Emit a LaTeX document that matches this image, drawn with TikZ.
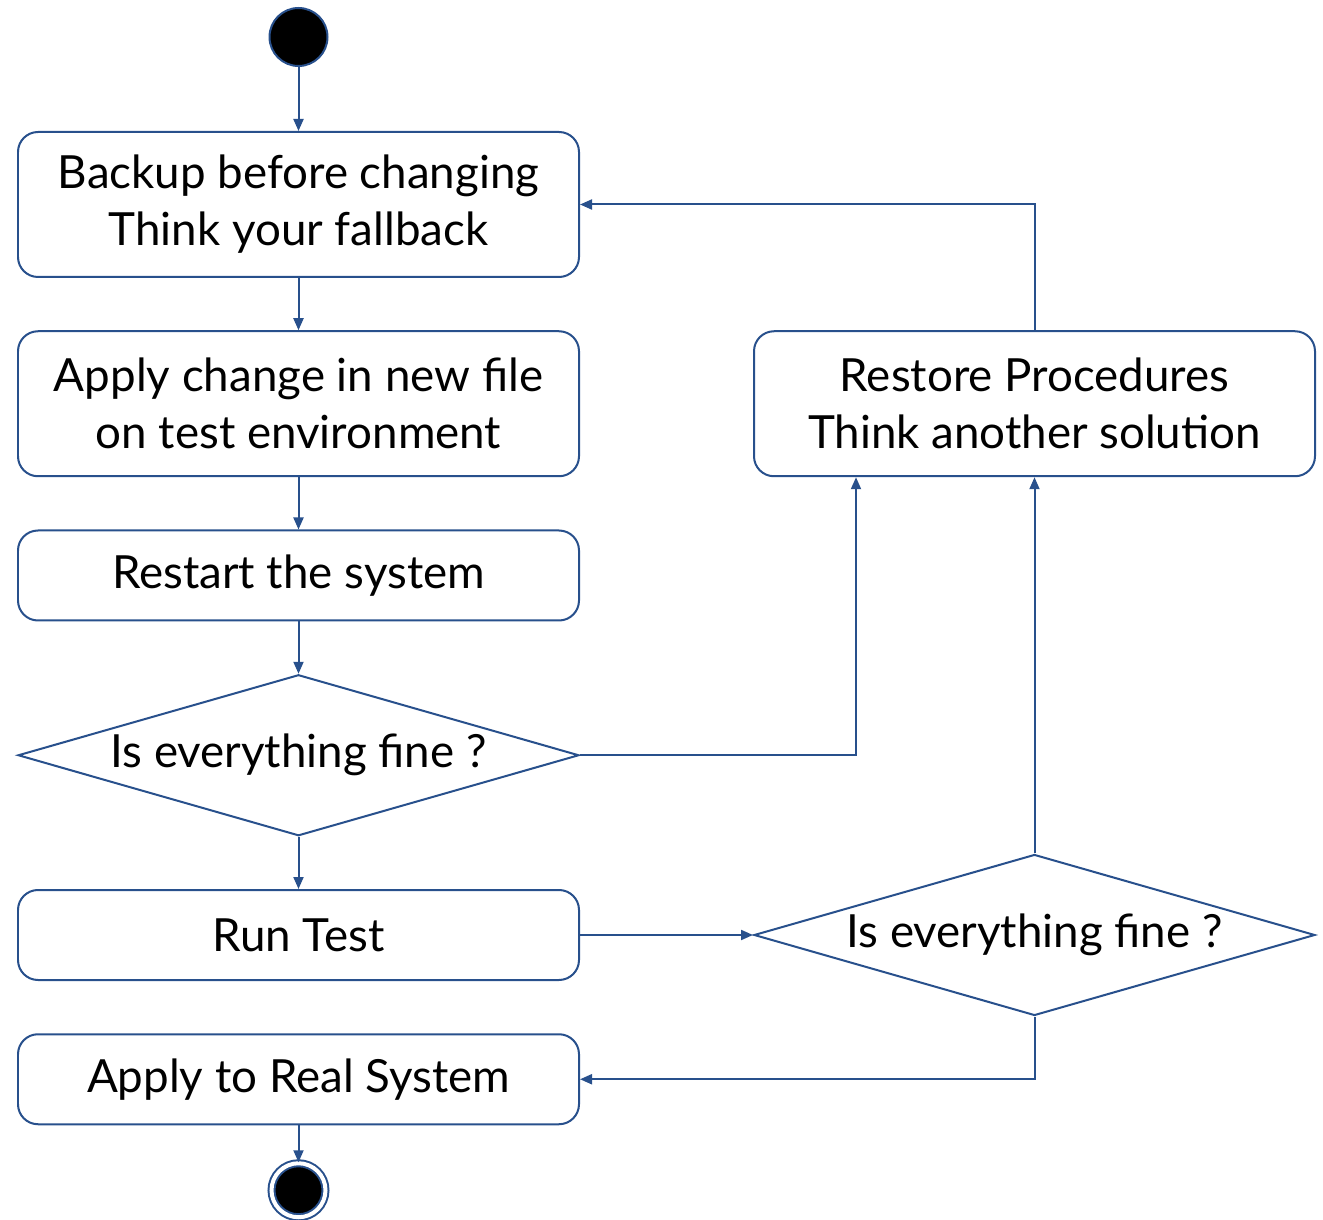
\documentclass[tikz,border=0pt]{standalone}
\usepackage{fontspec}
\setmainfont{Lato}
\usetikzlibrary{positioning, arrows.meta, shapes.geometric}

\definecolor{linec}{HTML}{28508C}

\tikzset{
    stepbox/.style={draw=linec, line width=0.04cm, rounded corners=0.4cm,
        minimum width=11.22cm, align=center, font=\fontsize{26}{32.5}\selectfont},
    decision/.style={draw=linec, line width=0.04cm, diamond, aspect=3.48, inner sep=0pt,
        minimum width=11.22cm, minimum height=3.22cm, font=\fontsize{26}{32.5}\selectfont},
    flow/.style={draw=linec, line width=0.04cm, -{Triangle[length=2.4mm, width=2mm]}},
}

\begin{document}
\begin{tikzpicture}[node distance=1.045cm]
            \useasboundingbox (0,0) rectangle (26.46,-24.4);

            \node [circle, draw=linec, line width=0.04cm, fill=black, minimum size=1.16cm] (start) at (5.97,-0.74) {};
            \node [stepbox, minimum height=2.9cm, below=1.28cm of start] (backup) {Backup before changing\\Think your fallback};
            \node [stepbox, minimum height=2.9cm, below=of backup] (apply) {Apply change in new file\\on test environment};
            \node [stepbox, minimum height=1.8cm, below=of apply] (restart) {Restart the system};
            \node [decision, below=of restart] (fine1) {Is everything fine ?};
            \node [stepbox, minimum height=1.8cm, below=of fine1] (runtest) {Run Test};
            \node [stepbox, minimum height=1.8cm, below=of runtest] (applyreal) {Apply to Real System};
            \node [circle, draw=linec, line width=0.04cm, fill=black, double=white, double distance=0.08cm,
                minimum size=1.08cm, below=0.74cm of applyreal] (stop) {};

            % right column
            \node [stepbox, minimum height=2.9cm, right=3.46cm of apply] (restore) {Restore Procedures\\Think another solution};
            \node [decision, right=3.46cm of runtest] (fine2) {Is everything fine ?};

            \draw [flow] (start) -- (backup);
            \draw [flow] (backup) -- (apply);
            \draw [flow] (apply) -- (restart);
            \draw [flow] (restart) -- (fine1);
            \draw [flow] (fine1) -- (runtest);
            \draw [flow] (fine1.east) -| ([xshift=2.06cm]restore.south west);
            \draw [flow] (runtest) -- (fine2);
            \draw [flow] (fine2) -- (restore);
            \draw [flow] (restore.north) |- (backup.east);
            \draw [flow] (fine2.south) |- (applyreal.east);
            \draw [flow] (applyreal) -- (stop);

        \end{tikzpicture}
\end{document}
